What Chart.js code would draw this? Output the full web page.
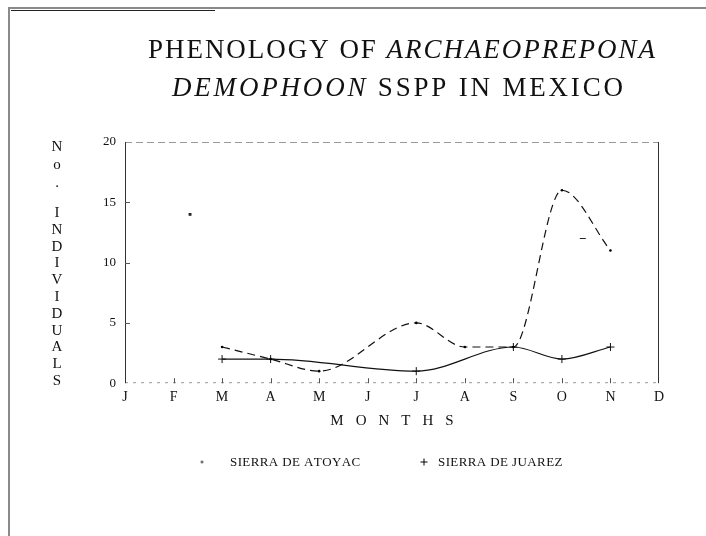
<!DOCTYPE html>
<html><head><meta charset="utf-8">
<script src="https://cdn.jsdelivr.net/npm/chart.js@4.4.1/dist/chart.umd.min.js"></script>
<style>html,body{margin:0;padding:0;background:#fff}canvas{display:block}</style>
</head><body>
<canvas id="c" width="706" height="536"></canvas>
<script>
// ---- data ----
const monthLabels = ['J','F','M','A','M','J','J','A','S','O','N','D'];
const yTickValues = [0,5,10,15,20];
const atoyacX = [2,3,4,6,7,8,9,10];
const atoyacY = [3,2,1,5,3,3,16,11];
const juarezX = [2,3,6,8,9,10];
const juarezY = [2,2,1,3,2,3];
const strayX = [1.34, 9.43];
const strayY = [14, 12];
const seriesNames = ['SIERRA DE ATOYAC', 'SIERRA DE JUAREZ'];
const titleLine1 = [['PHENOLOGY OF ', false], ['ARCHAEOPREPONA', true]];
const titleLine2 = [['DEMOPHOON', true], [' SSPP IN MEXICO', false]];
const yTitleLines = ['No.', 'INDIVIDUALS'];
const xTitle = 'MONTHS';

const SERIF = "'Liberation Serif', 'DejaVu Serif', serif";

function toPoints(xs, ys){ return xs.map((x,i)=>({x:x, y:ys[i]})); }

function makeMarker(kind){
  const c = document.createElement('canvas');
  c.width = 9; c.height = 9;
  const g = c.getContext('2d');
  g.fillStyle = '#000'; g.strokeStyle = '#000'; g.lineWidth = 1;
  if (kind === 'dot') { g.fillRect(3.5,3.5,2,2); }
  else { g.beginPath(); g.moveTo(4.5,1); g.lineTo(4.5,8); g.moveTo(1,4.5); g.lineTo(8,4.5); g.stroke(); }
  return c;
}
const legendMarkers = [makeMarker('dot'), makeMarker('plus')];

function spacedText(ctx, text, x, y, spacing){
  let cx = x;
  for (const ch of text) { ctx.fillText(ch, cx, y); cx += ctx.measureText(ch).width + spacing; }
  return cx;
}
function spacedWidth(ctx, text, spacing){
  let w = 0; for (const ch of text) w += ctx.measureText(ch).width + spacing; return w - spacing;
}

const decor = {
  id: 'decor',
  beforeDraw(chart){
    const ctx = chart.ctx;
    ctx.save();
    ctx.fillStyle = '#fff';
    ctx.fillRect(0,0,chart.width,chart.height);
    ctx.strokeStyle = '#8a8a8a';
    ctx.lineWidth = 2;
    ctx.beginPath();
    ctx.moveTo(9, chart.height); ctx.lineTo(9, 8); ctx.lineTo(chart.width, 8);
    ctx.stroke();
    ctx.strokeStyle = '#222'; ctx.lineWidth = 1;
    ctx.beginPath(); ctx.moveTo(11, 10.5); ctx.lineTo(215, 10.5); ctx.stroke();
    ctx.restore();
  },
  beforeDatasetsDraw(chart){
    const ctx = chart.ctx, a = chart.chartArea;
    const xs = chart.scales.x, ys = chart.scales.y;
    ctx.save();
    ctx.strokeStyle = '#9a9a9a'; ctx.lineWidth = 1;
    ctx.setLineDash([7,4]);
    ctx.beginPath();
    ctx.moveTo(a.left, a.top + 0.5); ctx.lineTo(a.right, a.top + 0.5);
    ctx.stroke();
    ctx.setLineDash([3,5]);
    ctx.beginPath();
    ctx.moveTo(a.left, a.bottom - 0.5); ctx.lineTo(a.right, a.bottom - 0.5);
    ctx.stroke();
    ctx.setLineDash([]);
    ctx.strokeStyle = '#333';
    ctx.beginPath();
    ctx.moveTo(a.right - 0.5, a.top); ctx.lineTo(a.right - 0.5, a.bottom);
    ctx.moveTo(a.left + 0.5, a.top); ctx.lineTo(a.left + 0.5, a.bottom);
    ctx.stroke();
    ctx.strokeStyle = '#555';
    ctx.beginPath();
    for (let i = 1; i < monthLabels.length - 1; i++) {
      const px = Math.round(xs.getPixelForValue(i)) + 0.5;
      ctx.moveTo(px, a.bottom); ctx.lineTo(px, a.bottom - 5);
    }
    for (const v of yTickValues) {
      if (v === 0 || v === 20) continue;
      const py = Math.round(ys.getPixelForValue(v)) + 0.5;
      ctx.moveTo(a.left, py); ctx.lineTo(a.left + 5, py);
    }
    ctx.stroke();
    ctx.restore();
  },
  afterDraw(chart){
    const ctx = chart.ctx, a = chart.chartArea;
    ctx.save();
    ctx.fillStyle = '#111';
    ctx.textBaseline = 'alphabetic';
    ctx.textAlign = 'left';
    const size = 27;
    function drawLine(parts, left, right, baseline){
      let nChars = 0, w0 = 0;
      parts.forEach(p => { ctx.font = (p[1] ? 'italic ' : '') + size + 'px ' + SERIF; w0 += spacedWidth(ctx, p[0], 0); nChars += p[0].length; });
      const sp = (right - left - w0) / (nChars - 1);
      let x = left;
      parts.forEach(p => { ctx.font = (p[1] ? 'italic ' : '') + size + 'px ' + SERIF; x = spacedText(ctx, p[0], x, baseline, sp); });
    }
    drawLine(titleLine1, 148, 655, 58);
    drawLine(titleLine2, 172, 623, 96);

    ctx.font = '15px ' + SERIF;
    ctx.textAlign = 'center';
    ctx.textBaseline = 'middle';
    const cx = 57;
    yTitleLines[0].split('').forEach((ch,i)=> ctx.fillText(ch, cx, 147 + i*18));
    yTitleLines[1].split('').forEach((ch,i)=> ctx.fillText(ch, cx, 213 + i*16.8));

    ctx.font = '15px ' + SERIF;
    ctx.textAlign = 'left';
    const xsp = 12;
    const tw = spacedWidth(ctx, xTitle, xsp);
    spacedText(ctx, xTitle, (a.left + a.right)/2 - tw/2, 421, xsp);

    ctx.font = '13px ' + SERIF;
    ctx.textBaseline = 'middle';
    const legendItems = [
      { marker: legendMarkers[0], mx: 202, tx: 230, y: 463 },
      { marker: legendMarkers[1], mx: 424, tx: 438, y: 463 }
    ];
    legendItems.forEach((it, i) => {
      ctx.drawImage(it.marker, it.mx - 4.5, it.y - 5.5);
      spacedText(ctx, chart.data.datasets[i].label, it.tx, it.y, 0.4);
    });
    ctx.restore();
  }
};

new Chart(document.getElementById('c'), {
  type: 'line',
  data: {
    datasets: [
      {
        label: seriesNames[0],
        data: toPoints(atoyacX, atoyacY),
        borderColor: '#111', backgroundColor: '#111',
        borderWidth: 1.2, borderDash: [8,5],
        pointStyle: 'circle', pointRadius: 1.3, pointBackgroundColor: '#000', pointBorderWidth: 0,
        cubicInterpolationMode: 'monotone', fill: false
      },
      {
        label: seriesNames[1],
        data: toPoints(juarezX, juarezY),
        borderColor: '#111', backgroundColor: '#111',
        borderWidth: 1.2,
        pointStyle: 'cross', pointRadius: 4, pointBorderWidth: 1,
        cubicInterpolationMode: 'monotone', fill: false
      },
      {
        label: 'stray',
        data: toPoints(strayX, strayY),
        showLine: false,
        borderColor: '#222', backgroundColor: '#222',
        pointStyle: ['rect','line'], pointRadius: [1.2, 3], pointBorderWidth: 1.2
      }
    ]
  },
  options: {
    responsive: false,
    animation: false,
    events: [],
    layout: { padding: { left: 0, right: 47, top: 142, bottom: 124 } },
    scales: {
      x: {
        type: 'linear', min: 0, max: 11,
        afterBuildTicks(scale){ scale.ticks = monthLabels.map((m,i)=>({value:i})); },
        ticks: {
          callback: (v) => monthLabels[v],
          font: { family: SERIF, size: 14 }, color: '#111',
          padding: 6, maxRotation: 0, autoSkip: false
        },
        grid: { display: false, drawTicks: false },
        border: { display: false },
        title: { display: false }
      },
      y: {
        min: 0, max: 20,
        afterBuildTicks(scale){ scale.ticks = yTickValues.map(v=>({value:v})); },
        afterFit(scale){ scale.width = 125; },
        ticks: { font: { family: SERIF, size: 13 }, color: '#111', padding: 9 },
        grid: { display: false, drawTicks: false },
        border: { display: false }
      }
    },
    plugins: {
      title: { display: false },
      tooltip: { enabled: false },
      legend: { display: false }
    }
  },
  plugins: [decor]
});
</script>
</body></html>
